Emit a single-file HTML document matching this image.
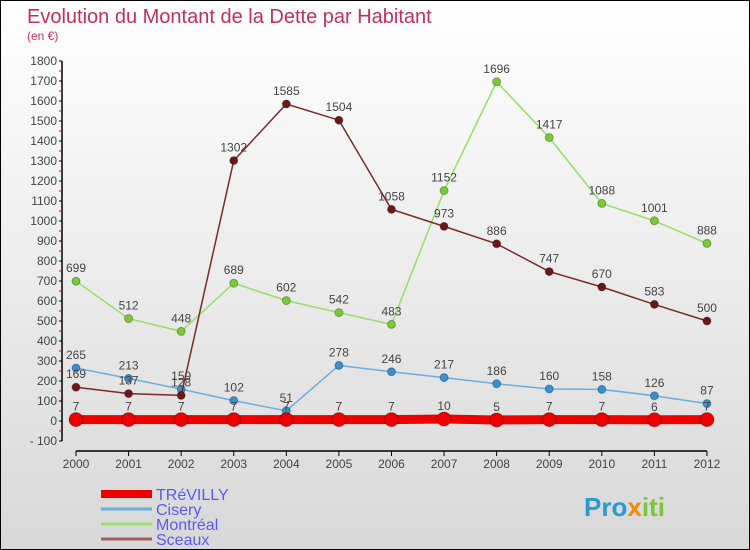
<!DOCTYPE html>
<html><head><meta charset="utf-8"><style>
body{margin:0}
#c{width:748px;height:548px;border:1px solid #000;background:linear-gradient(#fff,#d8d8d8);position:relative;overflow:hidden;font-family:"Liberation Sans",sans-serif}
</style></head><body>
<div id="c">
<svg id="s" width="748" height="548" xmlns="http://www.w3.org/2000/svg">
<text x="26" y="22" font-size="20" fill="#c0305f">Evolution du Montant de la Dette par Habitant</text>
<text x="26" y="39" font-size="12" fill="#c0305f">(en €)</text>
</svg></div>
<script>
const years=[2000,2001,2002,2003,2004,2005,2006,2007,2008,2009,2010,2011,2012];
const trevilly=[7,7,7,7,7,7,7,10,5,7,7,6,7];
const cisery=[265,213,159,102,51,278,246,217,186,160,158,126,87];
const montreal=[699,512,448,689,602,542,483,1152,1696,1417,1088,1001,888];
const sceaux=[169,137,128,1302,1585,1504,1058,973,886,747,670,583,500];
const yTicks=[-100,0,100,200,300,400,500,600,700,800,900,1000,1100,1200,1300,1400,1500,1600,1700,1800];
const s=document.getElementById('s'),NS='http://www.w3.org/2000/svg';
const X=i=>75+i*52.58, Y=v=>420-v*0.2;
function el(t,a,p){const e=document.createElementNS(NS,t);for(const k in a)e.setAttribute(k,a[k]);(p||s).appendChild(e);return e;}
const ax=el('line',{x1:61,y1:60,x2:61,y2:440,stroke:'#000','stroke-width':1.5});


yTicks.forEach(v=>{
 el('line',{x1:58,x2:61,y1:Y(v),y2:Y(v),stroke:'#000'});
 if(v<1800) el('line',{x1:58,x2:61,y1:Y(v)-10,y2:Y(v)-10,stroke:'#e00'});
 const t=el('text',{x:56,y:Y(v)+4,'text-anchor':'end','font-size':12,fill:'#444'});t.textContent=(v<0?'- '+(-v):v);
 
 
});
const xa=el('line',{x1:75,y1:450,x2:706,y2:450,stroke:'#000','stroke-width':1.5});


years.forEach((y,i)=>{
 el('line',{x1:X(i),x2:X(i),y1:450,y2:455,stroke:'#000'});
 const t=el('text',{x:X(i),y:467,'text-anchor':'middle','font-size':12,fill:'#444'});t.textContent=y;
 
 
});
function series(d,color,dot,w,r,name){
 const g=el('g',{});
 
 
 el('polyline',{points:d.map((v,i)=>X(i)+','+Y(v)).join(' '),fill:'none',stroke:color,'stroke-width':w},g);
 d.forEach((v,i)=>{
  const c=el('circle',{cx:X(i),cy:Y(v),r:r,fill:dot,stroke:'rgba(0,0,0,0.3)','stroke-width':1},g);
  
  
  const t=el('text',{x:X(i),y:Y(v)-9,'text-anchor':'middle','font-size':12,fill:'#444'},g);t.textContent=v;
  
  
 });
}
series(cisery,'#6aaee0','#3a8fd0',1.5,4,'cisery');
series(montreal,'#99dd66','#77cc33',1.5,4,'montreal');
series(sceaux,'#7a2a2a','#6a1818',1.5,4,'sceaux');
series(trevilly,'#ee0000','#ee0000',9,7,'trevilly');
const leg=[['TRéVILLY','#ee0000',8],['Cisery','#6aaee0',3],['Montréal','#99dd66',3],['Sceaux','#a06060',3]];
leg.forEach((l,i)=>{
 const y=493+i*15;
 const g=el('g',{});
 
 
 el('line',{x1:100,x2:151,y1:y,y2:y,stroke:l[1],'stroke-width':l[2]},g);
 const t=el('text',{x:155,y:y+6,'font-size':16,fill:'#5a5aee'},g);t.textContent=l[0];
});
const lg=el('text',{x:583,y:515,'font-size':26,'font-weight':'bold',fill:'#2a9ad0'});
lg.innerHTML='<tspan fill="#2a9ad0">Pro</tspan><tspan fill="#f08a00">x</tspan><tspan fill="#7cc43a">iti</tspan>';


</script>
</body></html>
